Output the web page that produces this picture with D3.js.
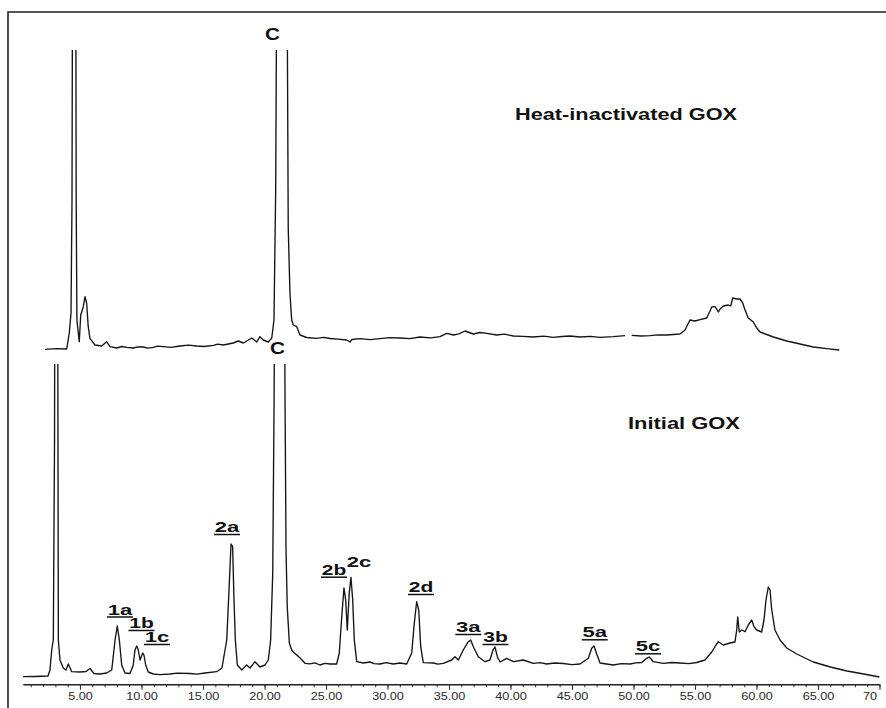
<!DOCTYPE html>
<html>
<head>
<meta charset="utf-8">
<script src="https://cdn.jsdelivr.net/npm/d3@7"></script>
<style>
  html, body { margin: 0; padding: 0; background: #fff; }
  svg { display: block; }
</style>
</head>
<body>
<svg id="chart" width="886" height="708"></svg>
<script>
// Retention time (min) and detector response (mV) of the initial GOX run
const initialTime = [
  0.37, 1.34, 2.40, 2.56, 2.70, 2.83, 2.93, 3.07, 3.21, 3.24, 3.37, 3.64, 3.86, 4.05, 4.33,
  5.00, 5.49, 5.81, 6.14, 6.63, 7.17, 7.58, 7.85, 8.03, 8.20, 8.39, 8.66, 9.07, 9.33, 9.47,
  9.61, 9.74, 9.88, 10.10, 10.20, 10.34, 10.55, 10.96, 11.50, 12.32, 12.90, 13.94, 14.50, 15.16,
  16.11, 16.54, 16.93, 17.09, 17.28, 17.41, 17.52, 17.63, 17.79, 18.15, 18.55, 18.82, 19.23,
  19.63, 20.04, 20.31, 20.50, 20.67, 20.78, 21.22, 21.67, 21.75, 21.85, 22.02, 22.21, 22.34,
  22.62, 22.89, 23.29, 23.70, 24.10, 24.51, 24.90, 25.33, 25.87, 26.08, 26.28, 26.46, 26.60,
  26.73, 26.89, 27.03, 27.17, 27.30, 27.50, 28.03, 28.58, 28.90, 29.39, 29.90, 30.47, 31.00,
  31.56, 31.97, 32.15, 32.37, 32.54, 32.70, 32.91, 33.72, 34.10, 34.54, 35.22, 35.49, 35.76,
  36.16, 36.57, 36.76, 36.98, 37.38, 37.93, 38.33, 38.60, 38.74, 38.93, 39.15, 39.69, 40.23,
  41.04, 41.85, 42.40, 42.94, 43.60, 44.29, 45.00, 45.65, 46.33, 46.60, 46.79, 47.01, 47.28,
  47.80, 48.36, 49.00, 49.72, 50.20, 50.67, 51.07, 51.28, 51.61, 52.42, 53.10, 53.78, 54.50,
  55.14, 55.81, 56.36, 56.71, 56.89, 57.30, 57.85, 58.25, 58.39, 58.47, 58.60, 58.80, 59.07,
  59.33, 59.61, 59.80, 60.02, 60.42, 60.61, 60.77, 60.96, 61.10, 61.24, 61.50, 61.91, 62.46,
  63.27, 64.62, 66.00, 67.36, 68.72, 69.99
];
const initialSignal = [
  3.3, 3.5, 4, 10, 30, 40, 240, 1200, 240, 40, 20, 12, 10, 16, 8.3,
  8, 8.5, 11.5, 6.5, 6, 7, 10, 40, 54, 40, 15, 7, 6.5, 15, 30,
  34, 30, 20, 27, 25, 15, 8, 6, 5.4, 6, 6.8, 6.5, 5.8, 7,
  8.3, 12, 40, 83.3, 136, 133.3, 80, 40, 15, 10, 15, 12, 18.3,
  13, 15, 20, 40, 107, 280, 1400, 280, 130, 73.3, 37, 30, 28,
  25, 22, 16.7, 16.2, 17.2, 15, 16.6, 16, 16, 27, 63.3, 92, 80,
  50, 87, 102.7, 80, 40, 18.3, 17, 18, 16.4, 16, 17.3, 16, 17,
  16, 27, 53.3, 78.3, 70, 33.3, 17.3, 17, 15.8, 16.7, 20, 23.3, 20,
  30, 38.3, 40, 33.3, 23.3, 18.3, 20, 30.7, 33, 23.3, 18, 21.7, 18.3,
  20, 16.7, 17.4, 16, 17, 16.5, 15.4, 16, 21.7, 31.7, 34, 26, 17,
  16, 15, 16.4, 16, 17.2, 17.5, 21.7, 23, 18.3, 16.7, 17.5, 17, 16.4,
  17.5, 20, 28, 35, 38.3, 35, 37, 38, 50, 63, 48, 50, 48.3,
  55, 60, 53.3, 50, 48, 60, 80, 93, 90, 70, 50, 40, 32,
  26, 18, 13, 9, 6, 3
];

// Same column after heat inactivation; null marks a gap in the recording
const heatTime = [
  2.15, 3.11, 3.92, 4.13, 4.27, 4.35, 4.54, 4.69, 4.75, 4.94, 5.06, 5.27, 5.41, 5.54, 5.67,
  5.81, 6.22, 6.76, 7.17, 7.44, 7.98, 8.40, 8.80, 9.33, 9.70, 10.15, 10.50, 10.96, 11.30,
  11.77, 12.40, 13.13, 13.80, 14.49, 15.10, 15.84, 16.20, 16.65, 17.46, 17.87, 18.28, 18.96,
  19.37, 19.63, 19.90, 20.31, 20.59, 20.77, 20.91, 21.42, 21.93, 22.07, 22.21, 22.34, 22.62,
  22.89, 23.43, 24.24, 24.80, 25.33, 26.00, 26.68, 26.95, 27.11, 27.76, 28.60, 29.39, 30.20,
  31.02, 31.80, 32.64, 33.50, 34.27, 34.81, 35.36, 35.80, 36.30, 36.98, 37.50, 38.07, 38.88,
  39.50, 40.23, 41.00, 41.85, 42.70, 43.48, 44.20, 44.84, 45.65, 46.50, 47.28, 48.36, 49.31,
  49.58, 49.85, 50.60, 51.34, 52.00, 52.70, 53.78, 54.19, 54.59, 55.00, 55.41, 55.95, 56.22,
  56.36, 56.63, 56.90, 57.04, 57.30, 57.71, 57.90, 58.07, 58.39, 58.66, 58.88, 59.07, 59.33,
  59.74, 60.02, 60.29, 61.37, 62.46, 63.54, 64.62, 65.71, 66.73
];
const heatSignal = [
  10.7, 11.3, 11, 27, 47, 160, 1200, 160, 40, 18.3, 45, 53.3, 63.3, 57, 33.3,
  21.7, 15, 14, 18.3, 13.3, 12, 13.5, 12.7, 12, 13.2, 13, 11.8, 12.7, 13.8,
  13.3, 12.6, 14, 14.8, 14, 13.5, 14.7, 15.8, 15, 17, 19, 17, 22,
  18, 23.3, 20, 18, 22, 40, 170, 1500, 132, 67, 40, 35, 33.3,
  25, 22.5, 21.7, 22.6, 21.5, 20.8, 20, 18, 20.5, 21.3, 20.4, 21.3, 22.4,
  22, 21.4, 23, 22.2, 23.3, 26.7, 25, 26.2, 29, 26, 27.5, 26.7, 25,
  25.8, 24, 23.6, 23, 23.8, 22.7, 23.5, 24, 23, 23.6, 22.7, 23.3, 24.3,
  null, 24.7, 24, 24.3, 25.2, 25, 26, 30, 40, 39, 40.3, 42, 49,
  53, 53.3, 48, 51, 54, 55, 54, 62, 61, 61, 57, 50, 42,
  38, 32, 28, 23, 19, 16, 13, 11.3, 10
];

// Time axis
const majorTicks = [5, 10, 15, 20, 25, 30, 35, 40, 45, 50, 55, 60, 65, 70];
const tickLabels = ["5.00", "10.00", "15.00", "20.00", "25.00", "30.00", "35.00",
                    "40.00", "45.00", "50.00", "55.00", "60.00", "65.00", "70"];
const minorTicks = d3.range(1, 71);

// Peak annotations on the initial run: name, time (min), response (mV) of the label's underline
const peakNames = ["1a", "1b", "1c", "2a", "2b", "2c", "2d", "3a", "3b", "5a", "5c"];
const peakNameTime = [8.25, 10.0, 11.26, 16.95, 25.65, 27.68, 32.72, 36.57, 38.78, 46.85, 51.18];
const peakNameSignal = [63.5, 50, 36, 146, 103.3, 111.3, 86, 46, 36, 40.7, 26.7];
const peakNameUnderlined = [true, true, true, true, true, false, true, true, true, true, true];

// Run titles and the label of the off-scale peak C
const runTitles = ["Heat-inactivated GOX", "Initial GOX"];
const runTitleTime = [40.37, 49.55];
const runTitleSignal = [240, 251];
const cLabelTime = [20.65, 21.06];
const cLabelSignal = [320, 326];

const W = 886, H = 708;
const svg = d3.select("#chart");
const FONT = "'Liberation Sans', Arial, Helvetica, sans-serif";

const x = d3.scaleLinear().domain([0.35, 70]).range([22.8, 879.5]);
const yTop = d3.scaleLinear().domain([0, 310]).range([360, 50]);
const yBottom = d3.scaleLinear().domain([0, 316]).range([680, 364]);
const axisY = 684.3;
const labelEdge = 877;

// Frame (left and top edges)
svg.append("path")
  .attr("d", `M8,${H} V12 H${W}`)
  .attr("fill", "none")
  .attr("stroke", "#222")
  .attr("stroke-width", 1.6);

// Off-scale peaks are cut at the top of each run's band
const defs = svg.append("defs");
defs.append("clipPath").attr("id", "clip-top")
  .append("rect").attr("x", 0).attr("y", yTop.range()[1]).attr("width", W).attr("height", H);
defs.append("clipPath").attr("id", "clip-bottom")
  .append("rect").attr("x", 0).attr("y", yBottom.range()[1]).attr("width", W).attr("height", H);

function trace(times, values, y, clipId) {
  const pts = times.map((t, i) => ({ t, v: values[i] }));
  const line = d3.line()
    .defined(d => d.v !== null)
    .x(d => x(d.t))
    .y(d => y(d.v));
  svg.append("path")
    .datum(pts)
    .attr("clip-path", `url(#${clipId})`)
    .attr("fill", "none")
    .attr("stroke", "#141414")
    .attr("stroke-width", 1.35)
    .attr("stroke-linejoin", "round")
    .attr("d", line);
}
trace(heatTime, heatSignal, yTop, "clip-top");
trace(initialTime, initialSignal, yBottom, "clip-bottom");

// Stretch a text element horizontally to a given width; centred labels that
// would run past the right edge are pulled back inside it
function fitWidth(sel, widthFn, anchor) {
  sel.each(function (d, i) {
    const el = d3.select(this);
    const natural = this.getComputedTextLength();
    const w = widthFn(natural, d, i);
    el.attr("textLength", w).attr("lengthAdjust", "spacingAndGlyphs");
    if (anchor === "middle") {
      let left = (+el.attr("x") || 0) - w / 2;
      const ctm = this.parentNode.getCTM();
      const offset = ctm ? ctm.e : 0;
      if (offset + left + w > labelEdge) left = labelEdge - offset - w;
      el.attr("text-anchor", "start").attr("x", left);
    }
  });
}

// Axis
const gMinor = svg.append("g").attr("transform", `translate(0,${axisY})`)
  .call(d3.axisBottom(x).tickValues(minorTicks).tickSize(3).tickSizeOuter(0).tickFormat(""));
gMinor.select(".domain").remove();
gMinor.selectAll(".tick line").attr("stroke", "#333").attr("stroke-width", 1);

const gMajor = svg.append("g").attr("transform", `translate(0,${axisY})`)
  .call(d3.axisBottom(x).tickValues(majorTicks).tickSize(5.5).tickSizeOuter(0)
    .tickPadding(2).tickFormat((d, i) => tickLabels[i]));
gMajor.select(".domain").attr("stroke", "#222").attr("stroke-width", 1.5);
gMajor.selectAll(".tick line").attr("stroke", "#333").attr("stroke-width", 1.1);
gMajor.selectAll(".tick text")
  .attr("font-family", FONT)
  .attr("font-size", 11.5)
  .attr("fill", "#2a2a2a")
  .call(fitWidth, n => n * 1.1, "middle");

// Peak names
const gPeaks = svg.append("g")
  .attr("font-family", FONT)
  .attr("font-weight", "bold")
  .attr("font-size", 14.5)
  .attr("fill", "#111");
peakNames.forEach((name, i) => {
  const cx = x(peakNameTime[i]);
  const uy = yBottom(peakNameSignal[i]);
  gPeaks.append("text")
    .attr("x", cx)
    .attr("y", uy - 2)
    .text(name)
    .call(fitWidth, () => 24.5, "middle");
  if (peakNameUnderlined[i]) {
    gPeaks.append("line")
      .attr("x1", cx - 13).attr("x2", cx + 13)
      .attr("y1", uy + 0.5).attr("y2", uy + 0.5)
      .attr("stroke", "#111")
      .attr("stroke-width", 1.5);
  }
});

// Peak C labels (one per run)
const gC = svg.append("g")
  .attr("font-family", FONT)
  .attr("font-weight", "bold")
  .attr("font-size", 16.5)
  .attr("fill", "#111");
[yTop, yBottom].forEach((y, i) => {
  gC.append("text")
    .attr("x", x(cLabelTime[i]))
    .attr("y", y(cLabelSignal[i]))
    .text("C")
    .call(fitWidth, () => 15, "middle");
});

// Run titles
const titleWidths = [222, 112];
[yTop, yBottom].forEach((y, i) => {
  svg.append("text")
    .attr("x", x(runTitleTime[i]))
    .attr("y", y(runTitleSignal[i]))
    .attr("font-family", FONT)
    .attr("font-weight", "bold")
    .attr("font-size", 16.5)
    .attr("fill", "#111")
    .text(runTitles[i])
    .call(fitWidth, () => titleWidths[i]);
});
</script>
</body>
</html>
